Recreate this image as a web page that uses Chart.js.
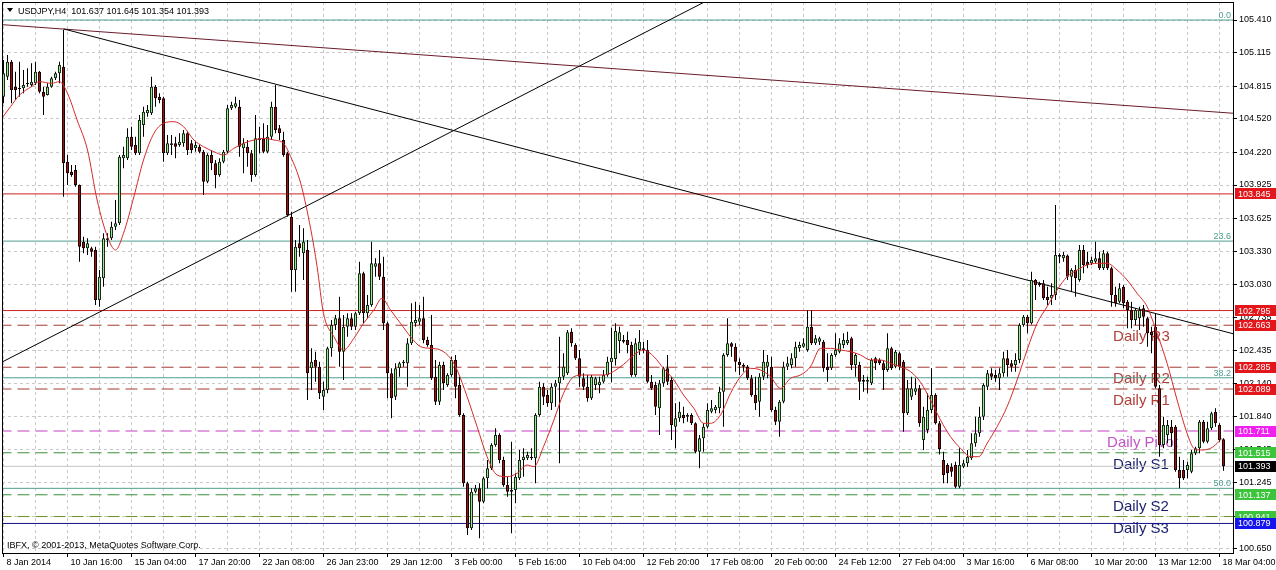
<!DOCTYPE html>
<html><head><meta charset="utf-8">
<script src="https://cdn.jsdelivr.net/npm/chart.js@4.4.1/dist/chart.umd.min.js"></script>
<style>html,body{margin:0;padding:0;background:#fff;}#wrap{position:relative;width:1276px;height:570px;}</style>
</head><body><div id="wrap"><canvas id="c"></canvas></div>
<script>
// ---------- data ----------
const xLabels = ['8 Jan 2014','10 Jan 16:00','15 Jan 04:00','17 Jan 20:00','22 Jan 08:00','26 Jan 23:00','29 Jan 12:00','3 Feb 00:00','5 Feb 16:00','10 Feb 04:00','12 Feb 20:00','17 Feb 08:00','20 Feb 00:00','24 Feb 12:00','27 Feb 04:00','3 Mar 16:00','6 Mar 08:00','10 Mar 20:00','13 Mar 12:00','18 Mar 04:00'];
const yTicks = [105.410,105.115,104.815,104.520,104.220,103.925,103.625,103.330,103.030,102.735,102.435,102.140,101.840,101.545,101.245,100.945,100.650];

const open = [104.72,104.90,105.035,104.81,104.795,104.795,104.84,104.825,104.84,104.945,
104.765,104.735,104.81,104.885,104.93,104.99,104.135,104.045,104.06,103.925,
103.415,103.355,103.355,103.34,102.89,103.085,103.43,103.445,103.55,103.58,
104.165,104.165,104.36,104.285,104.21,104.465,104.57,104.57,104.81,104.72,
104.705,104.21,104.285,104.30,104.285,104.30,104.39,104.30,104.255,104.27,
104.225,103.955,104.195,104.12,104.015,104.135,104.225,104.615,104.63,104.63,
104.255,104.27,104.21,104.015,104.33,104.345,104.225,104.36,104.63,104.435,
104.33,104.21,103.64,103.16,103.40,103.31,103.34,102.275,102.35,102.29,
102.02,102.08,102.455,102.665,102.725,102.425,102.65,102.725,102.65,102.77,
103.13,102.77,102.845,103.19,103.22,103.10,102.68,102.23,102.02,102.275,
102.32,102.32,102.50,102.68,102.695,102.725,102.53,102.485,102.20,101.975,
102.305,102.125,102.215,102.35,102.125,101.855,101.24,100.835,101.165,101.195,
101.075,101.285,101.375,101.585,101.675,101.45,101.225,101.18,101.18,101.285,
101.45,101.465,101.48,101.465,101.855,102.11,102.035,101.96,102.11,102.14,
102.20,102.23,102.605,102.485,102.365,102.185,102.11,102.005,102.125,102.125,
102.155,102.215,102.33,102.36,102.52,102.53,102.53,102.485,102.215,102.44,
102.455,102.44,102.155,102.125,101.915,102.14,102.275,102.17,101.75,101.825,
101.855,101.84,101.855,101.78,101.525,101.645,101.75,101.885,101.90,101.915,
102.065,102.395,102.50,102.47,102.335,102.305,102.29,102.185,102.035,101.975,
102.20,102.29,102.29,101.90,101.795,101.975,102.29,102.305,102.365,102.455,
102.47,102.44,102.65,102.50,102.515,102.515,102.29,102.275,102.395,102.425,
102.485,102.50,102.545,102.305,102.305,102.17,102.155,102.14,102.365,102.35,
102.32,102.26,102.455,102.29,102.41,102.335,101.87,102.02,102.065,102.095,
101.63,101.72,101.90,102.035,101.78,101.45,101.405,101.39,101.405,101.21,
101.39,101.42,101.465,101.60,101.69,101.84,102.11,102.23,102.215,102.185,
102.23,102.365,102.32,102.305,102.35,102.665,102.74,102.68,103.07,103.04,
103.04,102.92,102.905,102.935,103.295,103.265,103.29,103.10,103.16,103.07,
103.34,103.235,103.22,103.235,103.265,103.175,103.31,103.175,102.935,102.875,
103.01,102.875,102.80,102.71,102.725,102.815,102.725,102.605,102.65,102.095,
101.585,101.675,101.75,101.75,101.36,101.36,101.36,101.345,101.51,101.555,
101.795,101.615,101.735,101.885,101.765,101.637];

const high = [105.05,105.095,105.05,104.945,105.035,104.96,104.975,105.02,105.035,104.95,
104.81,104.84,104.90,104.945,105.035,105.32,104.195,104.105,104.105,103.93,
103.46,103.445,103.37,103.37,103.16,103.49,103.49,103.595,103.79,104.195,
104.27,104.435,104.45,104.36,104.555,104.63,104.645,104.90,104.825,104.75,
104.72,104.375,104.375,104.36,104.39,104.42,104.405,104.33,104.315,104.285,
104.24,104.21,104.24,104.15,104.165,104.24,104.645,104.675,104.72,104.69,
104.345,104.33,104.24,104.555,104.45,104.48,104.465,104.675,104.825,104.465,
104.405,104.225,103.685,103.43,103.565,103.535,103.43,102.455,102.425,102.335,
102.155,102.47,102.71,102.755,102.92,102.755,102.77,102.77,102.785,103.235,
103.145,102.935,103.415,103.265,103.34,103.28,102.695,102.275,102.32,102.335,
102.35,102.545,102.86,102.875,102.845,102.92,102.56,102.755,102.35,102.335,
102.335,102.23,102.38,102.395,102.20,101.87,101.255,101.195,101.225,101.24,
101.30,101.45,101.60,101.735,101.69,101.48,101.30,101.615,101.33,101.54,
101.555,101.525,101.555,101.87,102.155,102.14,102.08,102.14,102.17,102.56,
102.41,102.62,102.635,102.50,102.44,102.23,102.215,102.215,102.20,102.20,
102.26,102.38,102.64,102.68,102.65,102.575,102.605,102.515,102.545,102.62,
102.515,102.53,102.215,102.155,102.17,102.29,102.395,102.20,101.96,101.975,
101.93,101.87,101.87,101.79,101.675,101.78,101.96,101.99,101.945,102.11,
102.41,102.725,102.51,102.50,102.365,102.32,102.305,102.215,102.20,102.23,
102.44,102.395,102.38,101.93,101.99,102.335,102.38,102.41,102.515,102.515,
102.545,102.80,102.80,102.575,102.56,102.53,102.41,102.41,102.59,102.545,
102.59,102.605,102.56,102.41,102.335,102.215,102.20,102.365,102.38,102.365,
102.35,102.59,102.47,102.44,102.425,102.35,102.17,102.20,102.185,102.125,
101.93,102.05,102.275,102.05,101.80,101.525,101.42,101.42,101.435,101.555,
101.45,101.54,101.69,101.84,101.93,102.14,102.26,102.275,102.26,102.275,
102.425,102.44,102.35,102.41,102.68,102.755,102.755,103.145,103.08,103.055,
103.07,103.01,103.04,103.745,103.31,103.325,103.30,103.175,103.205,103.385,
103.385,103.325,103.28,103.415,103.325,103.34,103.325,103.19,103.01,103.04,
103.025,102.89,102.875,102.815,102.83,102.845,102.74,102.65,102.77,102.125,
101.84,101.81,101.81,101.765,101.48,101.45,101.435,101.54,101.57,101.81,
101.81,101.795,101.885,101.915,101.78,101.645];

const low = [104.66,104.87,104.66,104.69,104.72,104.75,104.81,104.81,104.825,104.75,
104.555,104.73,104.80,104.87,104.84,103.82,103.925,104.0,103.91,103.235,
103.31,103.295,103.28,102.845,102.83,103.01,103.37,103.43,103.52,103.565,
104.075,104.15,104.24,104.195,104.195,104.36,104.54,104.555,104.63,104.66,
104.135,104.195,104.195,104.165,104.27,104.27,104.195,104.21,104.225,104.21,
103.835,103.94,104.06,103.895,104.0,104.12,104.21,104.60,104.615,104.18,
104.03,104.09,103.955,104.0,104.21,104.21,104.21,104.33,104.39,104.33,
104.18,103.64,102.965,102.965,103.28,103.07,101.99,102.08,102.155,102.0,
101.90,102.05,102.38,102.62,102.29,102.17,102.56,102.62,102.62,102.755,
102.68,102.725,102.83,103.10,103.07,102.62,102.005,101.825,101.99,102.20,
102.29,102.11,102.485,102.65,102.665,102.50,102.47,102.17,101.945,101.945,
102.08,102.11,102.20,102.005,101.84,101.21,100.775,100.82,101.15,100.745,
101.06,101.195,101.36,101.57,101.42,101.21,101.12,100.79,101.06,101.27,
101.30,101.45,101.45,101.24,101.84,101.945,101.93,101.90,101.93,101.42,
102.17,102.215,102.47,102.35,102.11,102.08,101.975,101.99,102.08,102.05,
102.14,102.20,102.15,102.30,102.41,102.50,102.41,102.20,102.20,102.395,
102.41,102.14,102.08,101.855,101.675,102.11,102.125,101.63,101.555,101.795,
101.78,101.795,101.765,101.51,101.375,101.525,101.735,101.87,101.87,101.87,
101.75,102.38,102.38,102.245,102.215,102.245,102.17,102.02,101.90,101.84,
102.17,102.185,101.885,101.765,101.66,101.96,102.26,102.275,102.29,102.425,
102.46,102.425,102.485,102.485,102.485,102.245,102.155,102.26,102.38,102.41,
102.455,102.485,102.26,102.20,101.99,102.065,102.05,102.125,102.26,102.305,
102.08,102.245,102.26,102.275,102.26,101.705,101.855,101.99,102.035,101.75,
101.54,101.69,101.87,101.77,101.50,101.24,101.24,101.30,101.195,101.195,
101.375,101.39,101.45,101.57,101.66,101.81,102.08,102.17,102.155,102.08,
102.20,102.20,102.245,102.245,102.32,102.65,102.59,102.67,102.89,103.01,
102.89,102.845,102.845,102.89,103.22,103.235,103.07,102.965,102.92,103.055,
103.13,103.175,103.205,103.22,103.16,103.16,103.16,102.83,102.83,102.86,
102.815,102.635,102.635,102.665,102.62,102.65,102.47,102.41,102.095,101.48,
101.555,101.60,101.57,101.345,101.195,101.27,101.285,101.33,101.495,101.51,
101.60,101.60,101.72,101.75,101.615,101.354];

const close = [104.93,105.035,104.78,104.78,104.79,104.825,104.835,104.855,104.945,104.765,
104.72,104.81,104.885,104.93,105.005,104.12,104.03,104.015,103.925,103.37,
103.355,103.40,103.325,102.89,103.10,103.445,103.445,103.55,103.58,104.18,
104.195,104.36,104.27,104.21,104.51,104.585,104.60,104.81,104.705,104.69,
104.21,104.30,104.30,104.27,104.315,104.39,104.24,104.24,104.285,104.225,
103.955,104.195,104.12,104.015,104.135,104.225,104.615,104.645,104.66,104.27,
104.30,104.21,104.015,104.345,104.345,104.225,104.36,104.63,104.42,104.39,
104.195,103.655,103.16,103.37,103.355,103.415,102.23,102.335,102.29,102.05,
102.08,102.455,102.665,102.725,102.425,102.65,102.725,102.65,102.77,103.13,
102.77,102.845,103.22,103.22,103.10,102.68,102.23,102.005,102.275,102.32,
102.335,102.50,102.695,102.71,102.725,102.53,102.485,102.185,101.975,102.305,
102.14,102.215,102.35,102.11,101.855,101.24,100.835,101.165,101.195,101.075,
101.285,101.375,101.585,101.675,101.45,101.225,101.165,101.165,101.30,101.45,
101.48,101.495,101.465,101.855,102.11,102.02,101.96,102.11,102.14,102.20,
102.29,102.60,102.50,102.365,102.20,102.11,102.005,102.20,102.185,102.155,
102.215,102.335,102.37,102.61,102.60,102.515,102.485,102.215,102.50,102.515,
102.44,102.155,102.095,101.93,102.14,102.275,102.155,101.765,101.825,101.885,
101.825,101.855,101.78,101.525,101.645,101.75,101.90,101.915,101.93,102.065,
102.395,102.50,102.47,102.335,102.305,102.29,102.185,102.035,101.96,102.20,
102.335,102.335,101.90,101.795,101.975,102.29,102.32,102.365,102.47,102.485,
102.50,102.65,102.50,102.545,102.545,102.275,102.26,102.395,102.44,102.50,
102.53,102.53,102.305,102.395,102.155,102.155,102.17,102.35,102.32,102.32,
102.26,102.455,102.275,102.425,102.29,101.87,102.095,102.095,102.095,101.78,
101.84,101.90,102.035,101.78,101.55,101.315,101.33,101.345,101.21,101.405,
101.42,101.48,101.60,101.69,101.84,102.125,102.23,102.20,102.185,102.23,
102.365,102.305,102.29,102.35,102.665,102.74,102.68,103.07,103.025,103.025,
102.905,102.89,102.935,103.295,103.28,103.295,103.10,103.16,103.085,103.34,
103.205,103.205,103.25,103.265,103.175,103.31,103.175,102.935,102.86,102.995,
102.86,102.80,102.71,102.80,102.80,102.74,102.59,102.575,102.11,101.585,
101.765,101.765,101.69,101.36,101.285,101.285,101.405,101.51,101.555,101.795,
101.615,101.735,101.87,101.78,101.63,101.393];

// moving average (bar position, price)
const maBar = [-0.75,1.75,4,7,9,12,14,16,18.4,21,23.4,26,28,30,32.6,35,37.6,40,42.6,45,47.6,50,52.6,55,57.6,60,62.6,65,67.6,70,71.8,74.3,76.8,78.4,80,82.6,85,87.6,90,92.6,94.6,96.75,99.25,101.75,104.25,106.75,109.25,111.75,113.4,115.9,118.4,120.9,123.4,125.9,128.4,130.9,132.6,135,137.6,140,142.6,145,147.6,150,155,157.6,160,162.6,165,167.6,170,172.6,175,176.75,179.25,181.75,184.25,186.75,189.25,191.75,194.25,196.75,199.25,201.75,204.25,206.75,209.25,211.75,214.25,216.75,219.25,221.75,224.25,226.75,229.25,231.75,234.25,236.75,239.25,241.75,243.8,245.9,248.4,250.9,253.4,255.9,258.4,260.9,263.4,265.9,268.4,270.9,273.4,275.9,278.4,280.9,283.4,285.9,288.4,290.9,293.4,295.9,297.6,299.25,301.75,303.4,304.6];
const maVal = [104.51,104.63,104.735,104.81,104.855,104.84,104.855,104.75,104.51,104.24,103.79,103.46,103.34,103.49,103.82,104.15,104.39,104.48,104.495,104.45,104.33,104.27,104.225,104.195,104.255,104.30,104.33,104.345,104.33,104.30,104.18,103.94,103.53,103.19,102.77,102.56,102.44,102.545,102.68,102.80,102.905,102.80,102.68,102.56,102.47,102.455,102.44,102.365,102.26,102.02,101.75,101.48,101.315,101.30,101.33,101.405,101.39,101.57,101.81,102.05,102.20,102.215,102.215,102.215,102.31,102.395,102.44,102.38,102.275,102.17,102.035,101.915,101.78,101.78,101.855,102.05,102.20,102.275,102.26,102.20,102.095,102.185,102.215,102.29,102.455,102.455,102.44,102.425,102.395,102.35,102.35,102.32,102.29,102.245,102.15,101.99,101.81,101.66,101.555,101.48,101.48,101.60,101.75,101.93,102.17,102.44,102.68,102.83,102.98,103.10,103.16,103.205,103.22,103.22,103.16,103.07,102.95,102.83,102.59,102.32,101.99,101.69,101.555,101.54,101.555,101.60,101.645];

// daily pivot levels
const pivotNames = ['Daily R3','Daily R2','Daily R1','Daily Pivot','Daily S1','Daily S2','Daily S3'];
const pivotValues = [102.663,102.285,102.089,101.711,101.515,101.137,100.941];
// other horizontal levels
const resistanceValues = [103.845,102.795];
const supportValue = 100.879;
const bidPrice = 101.393;
// fibonacci retracement
const fibNames = ['0.0','23.6','38.2','50.0'];
const fibValues = [105.41,103.42,102.19,101.195];
// trend lines (bar position, price)
const trendMaroonX = [-5,320], trendMaroonY = [105.38,104.538];
const trendDownX = [15,320], trendDownY = [105.33,102.468];
const trendUpX = [-5,200], trendUpY = [102.246,106.029];
// title values
const symbol = 'USDJPY,H4';
const lastOHLC = [101.637,101.645,101.354,101.393];

// ---------- chart ----------
const FONT = 'Liberation Sans, Arial, sans-serif';
const idx = close.map((_, i) => i);
const bullFill = '#96ec8c', bearFill = '#9c1010';

const pivotColors = ['#a33a32','#a33a32','#a33a32','#c040c0','#3a8f3a','#3a8f3a','#6f8f2a'];
const pivotTextColors = ['#b0403a','#b0403a','#b0403a','#c455c8','#1c1f6e','#1c1f6e','#1c1f6e'];
const pivotBoxColors = ['#e3171b','#e3171b','#e3171b','#f020f0','#3cc43c','#3cc43c','#3cc43c'];

function hline(v, color, dash, order) {
  return {type:'line', data:[{x:-10,y:v},{x:330,y:v}], borderColor:color, borderWidth:1,
          borderDash:dash, pointRadius:0, tension:0, order:order};
}
function seg(xs, ys, color, order) {
  return {type:'line', data:xs.map((x,k)=>({x:x,y:ys[k]})), borderColor:color, borderWidth:1,
          pointRadius:0, tension:0, order:order};
}

const datasets = [];
// MA on top
datasets.push({type:'line', data:maBar.map((b,k)=>({x:b,y:maVal[k]})), borderColor:'#d42a2a',
  borderWidth:1, pointRadius:0, cubicInterpolationMode:'monotone', order:0});
// candle bodies
datasets.push({type:'bar', data:idx.map(i=>({x:i,y:[open[i],close[i]]})),
  backgroundColor:idx.map(i=>close[i]>=open[i]?bullFill:bearFill),
  borderColor:idx.map(i=>close[i]>=open[i]?'#1a2a1a':'#1a0000'),
  borderWidth:1, borderSkipped:false, barThickness:3, grouped:false, minBarLength:1, inflateAmount:0, order:1});
// wicks
datasets.push({type:'bar', data:idx.map(i=>({x:i,y:[low[i],high[i]]})),
  backgroundColor:'#000', borderWidth:0, barThickness:1, grouped:false, inflateAmount:0, order:2});
// trend lines
datasets.push(seg(trendDownX, trendDownY, '#000', 5));
datasets.push(seg(trendUpX, trendUpY, '#000', 5));
datasets.push(seg(trendMaroonX, trendMaroonY, '#6a1b2a', 5));
// horizontal levels
resistanceValues.forEach(v => datasets.push(hline(v, '#cc2222', [], 6)));
pivotValues.forEach((v,k) => datasets.push(hline(v, pivotColors[k], [12,6], 6)));
datasets.push(hline(supportValue, '#10108a', [], 6));
datasets.push(hline(bidPrice, '#c4c4c4', [], 7));
fibValues.forEach(v => datasets.push(hline(v, '#4f9e90', [], 7)));

const overlay = {
  id:'overlay',
  beforeDatasetsDraw(chart) {
    const {ctx, chartArea:a, scales:{x, y}} = chart;
    ctx.save();
    ctx.beginPath(); ctx.rect(a.left, a.top, a.right-a.left, a.bottom-a.top); ctx.clip();
    ctx.font = '15px ' + FONT; ctx.textAlign = 'left'; ctx.textBaseline = 'alphabetic';
    pivotValues.forEach((v,k) => {
      ctx.fillStyle = pivotTextColors[k];
      const bx = pivotNames[k] === 'Daily Pivot' ? 275.9 : 277.4;
      ctx.fillText(pivotNames[k], x.getPixelForValue(bx), y.getPixelForValue(v) + 16);
    });
    ctx.font = '9px ' + FONT; ctx.textAlign = 'right'; ctx.fillStyle = '#4f9e90';
    fibValues.forEach((v,k) => ctx.fillText(fibNames[k], a.right - 2, y.getPixelForValue(v) - 2));
    ctx.restore();
  },
  afterDraw(chart) {
    const {ctx, chartArea:a, scales:{y}, width} = chart;
    ctx.save();
    ctx.strokeStyle = '#000'; ctx.lineWidth = 1;
    ctx.strokeRect(Math.round(a.left)+0.5, Math.round(a.top)+0.5, Math.round(a.right-a.left), Math.round(a.bottom-a.top));
    const boxes = [];
    resistanceValues.forEach(v => boxes.push([v, '#e3171b']));
    pivotValues.forEach((v,k) => boxes.push([v, pivotBoxColors[k]]));
    boxes.push([supportValue, '#1414ee']);
    boxes.push([bidPrice, '#000']);
    ctx.font = '9px ' + FONT; ctx.textAlign = 'left'; ctx.textBaseline = 'middle';
    boxes.forEach(([v, col]) => {
      const py = y.getPixelForValue(v);
      ctx.fillStyle = col;
      ctx.fillRect(Math.round(a.right)+2, Math.round(py-5.5), width - Math.round(a.right) - 2, 11);
      ctx.fillStyle = '#fff';
      ctx.fillText(v.toFixed(3), Math.round(a.right)+5, py+0.5);
    });
    ctx.fillStyle = '#000';
    ctx.beginPath(); ctx.moveTo(7,8); ctx.lineTo(13,8); ctx.lineTo(10,12); ctx.closePath(); ctx.fill();
    ctx.textBaseline = 'alphabetic';
    ctx.fillText(symbol + '  ' + lastOHLC.map(v=>v.toFixed(3)).join(' '), 18, 14);
    ctx.fillText('IBFX, \u00a9 2001-2013, MetaQuotes Software Corp.', 7, 548);
    ctx.restore();
  }
};

new Chart(document.getElementById('c'), {
  type:'bar',
  data:{datasets},
  options:{
    responsive:true, maintainAspectRatio:false, animation:false,
    layout:{padding:{left:2, top:2, right:0, bottom:0}},
    plugins:{legend:{display:false}, tooltip:{enabled:false}},
    scales:{
      x:{type:'linear', min:-0.375, max:307.375, offset:false,
        grid:{offset:false, color:'#c8c8c8', lineWidth:1, drawTicks:true, tickLength:4,
          tickColor:(c)=> (c.tick && c.tick.value % 16 === 0) ? '#000' : 'rgba(0,0,0,0)', tickBorderDash:[]},
        border:{display:true, color:'#000', dash:[3,3]},
        afterBuildTicks:(s)=>{ const t=[]; for(let v=0; v<=304; v+=8) t.push({value:v}); s.ticks=t; },
        ticks:{autoSkip:false, maxRotation:0, minRotation:0, align:'start', labelOffset:3, padding:0,
          color:'#000', font:{family:FONT, size:9},
          callback:(v)=> (v % 16 === 0 ? xLabels[v/16] : '')},
        afterFit:(s)=>{ s.height = 17; s.paddingLeft = 0; s.paddingRight = 0; }
      },
      y:{type:'linear', position:'right', min:100.613, max:105.572, beginAtZero:false,
        grid:{color:'#c8c8c8', lineWidth:1, drawTicks:true, tickLength:4, tickColor:'#000', tickBorderDash:[]},
        border:{display:true, color:'#000', dash:[3,3]},
        afterBuildTicks:(s)=>{ s.ticks = yTicks.map(v=>({value:v})); },
        ticks:{padding:2, color:'#000', font:{family:FONT, size:9}, callback:(v)=>Number(v).toFixed(3)},
        afterFit:(s)=>{ s.width = 43; s.paddingTop = 0; s.paddingBottom = 0; }
      }
    }
  },
  plugins:[overlay]
});
</script>
</body></html>
